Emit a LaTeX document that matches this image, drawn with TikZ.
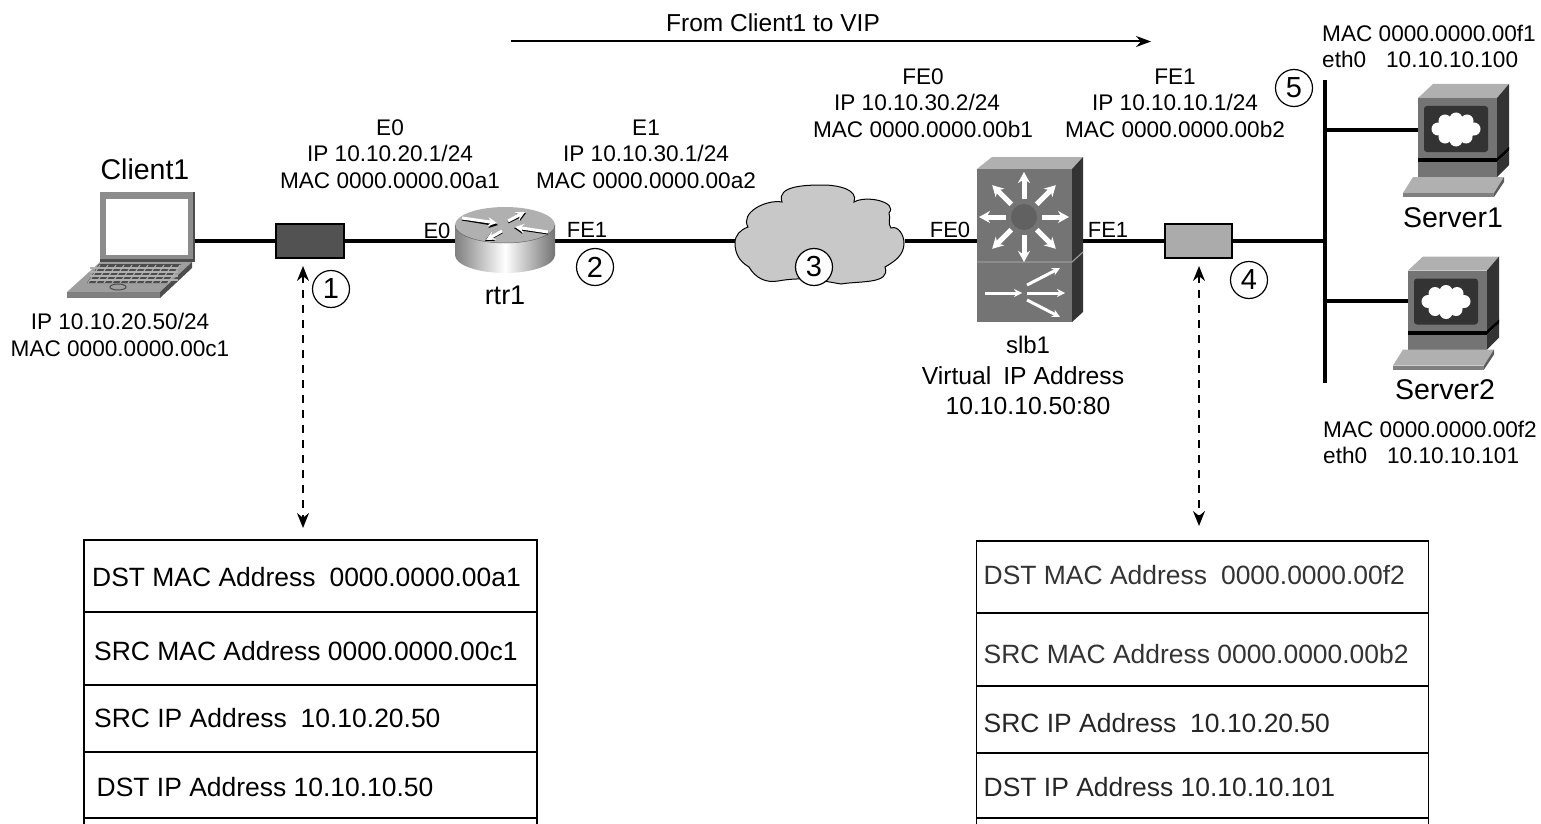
\documentclass[tikz,border=0pt]{standalone}
\usepackage{fontspec}
\usetikzlibrary{arrows.meta}
\setmainfont{Liberation Sans}
\definecolor{frontgray}{HTML}{747474}
\definecolor{topgray}{HTML}{B0B0B0}
\definecolor{sidegray}{HTML}{333333}
\definecolor{cloudgray}{HTML}{C8C8C8}

\tikzset{
  bigtip/.tip={Stealth[length=15pt, width=12pt]},
  iface/.style={font=\fontsize{22}{26}\selectfont, inner sep=0pt},
  addr/.style={font=\fontsize{22.6}{26.5}\selectfont, inner sep=0pt, align=center},
  devname/.style={font=\fontsize{28.5}{32}\selectfont, inner sep=0pt},
  numcircle/.style={draw, circle, fill=white, line width=1.2pt, minimum size=37pt, inner sep=0pt,
                    font=\fontsize{29}{32}\selectfont},
  frame/.style={inner sep=0pt},
  tap/.style={draw, line width=1.8pt, minimum width=67pt, minimum height=34pt, inner sep=0pt},
  link/.style={line width=3.2pt},
  tracearrow/.style={bigtip-bigtip, line width=1.6pt, dash pattern=on 8pt off 7pt},
  whitearrow/.style={-{Stealth[length=11pt, width=12pt]}, white, line width=5pt},
  thinarrow/.style={-{Stealth[length=8pt, width=8pt]}, white, line width=3pt},
  rtrarrow/.style={-{Stealth[length=9pt, width=9pt]}, line width=3pt},
  tablerow/.style={draw, line width=1.6pt, inner sep=0pt},
  rowtext/.style={anchor=west, inner sep=0pt, font=\fontsize{26.45}{30}\selectfont},
  pics/servericon/.style={code={
    \fill[topgray] (0,0) -- (15,-14) -- (91,-14) -- (79,0) -- cycle;
    \fill[frontgray] (0,0) rectangle (79,61);
    \fill[sidegray] (79,0) -- (91,-14) -- (91,51) -- (79,61) -- cycle;
    \fill[sidegray, rounded corners=3pt] (6,8) rectangle (70,54);
    \fill[white] (38,31) ellipse (21 and 11);
    \foreach \a/\b in {20/31, 27/23, 38/21, 49/23, 56/31, 48/39, 38/42, 27/39}
      \fill[white] (\a,\b) circle (6.5);
    \fill[black] (0,60) rectangle (79,64);
    \fill[frontgray] (0,64) rectangle (79,79);
    \fill[black] (79,60) -- (91,49) -- (91,53) -- (79,64) -- cycle;
    \fill[sidegray] (79,64) -- (91,53) -- (91,67) -- (79,79) -- cycle;
    \fill[topgray] (-5,79) -- (86,79) -- (76,95) -- (-15,95) -- cycle;
    \fill[gray] (-15,95) rectangle (76,99);
    \fill[sidegray!80] (86,79) -- (86,84) -- (76,99) -- (76,95) -- cycle;
  }},
}

\begin{document}
\begin{tikzpicture}[x=1pt, y=-1pt, >=stealth]
\useasboundingbox (0,0) rectangle (1541,824);

% ============================
% Nodes
% ============================
\node[frame, minimum width=96pt, minimum height=70pt] (client) at (147,226) {};
\node[frame, minimum width=100pt, minimum height=66pt] (rtr) at (505,241) {};
\node[frame, minimum width=169pt, minimum height=90pt] (wan) at (820,241) {};
\node[frame, minimum width=106pt, minimum height=165pt] (slb) at (1030,241) {};
\node[frame, minimum width=79pt, minimum height=60pt] (srv1) at (1457.5,130) {};
\node[frame, minimum width=79pt, minimum height=60pt] (srv2) at (1447.5,301) {};

\node[tap, fill=black!68, minimum width=68pt] (tapa) at (310,241) {};
\node[tap, fill=black!33] (tapb) at (1198.5,241) {};

% Ports on the bus
\coordinate (bustop) at (1325,80);
\coordinate (busend) at (1325,383);
\coordinate (busin) at (1325,241);
\coordinate (bus1) at (1325,130);
\coordinate (bus2) at (1325,301);

% ============================
% Links
% ============================
\draw[link] (client.east |- tapa) -- (tapa.west);
\draw[link] (tapa) -- (rtr);
\draw[link] (rtr) -- (wan);
\draw[link] (wan) -- (slb);
\draw[link] (slb) -- (tapb);
\draw[link] (tapb) -- (busin);
\draw[line width=4pt] (bustop) -- (busend);
\draw[link] (bus1) -- (srv1.west);
\draw[link] (bus2) -- (srv2.west);

% ============================
% Client1
% ============================
\fill[black!70] (100,192) rectangle (195,262);
\fill[black!45] (100,192) -- (193,192) -- (193,259) -- (100,259) -- cycle;
\fill[white] (106,199) rectangle (188,255);
\fill[topgray!90!black] (100,262) -- (192,262) -- (160,292) -- (67,292) -- cycle;
\fill[black!50] (67,292) rectangle (160,298);
\fill[black!70] (192,262) -- (192,268) -- (160,298) -- (160,292) -- cycle;
\fill[black!70] (99,264) -- (181,264) -- (167,283) -- (87,283) -- cycle;
\foreach \row in {268,272,276,280}
  \draw[topgray, line width=1.2pt] (90,\row) -- (178,\row);
\foreach \col in {100,108,...,180}
  \draw[topgray, line width=1pt] (\col,265) -- (\col-12,283);
\draw[black!70, line width=1pt] (118,287) ellipse (8 and 3);

% ============================
% rtr1
% ============================
\shade[left color=black!50, right color=black!55, middle color=white]
  (455,225) -- (455,255) arc[start angle=180, end angle=0, x radius=50, y radius=18] -- (555,225) -- cycle;
\fill[topgray] (505,225) ellipse (50 and 18);
\draw[black!60, line width=0.5pt] (455,225) arc[start angle=180, end angle=0, x radius=50, y radius=18];
\draw[rtrarrow, black] (462,219) -- (498,225);
\draw[rtrarrow, white] (462,218) -- (497,223);
\draw[rtrarrow, black] (548,233) -- (514,228);
\draw[rtrarrow, white] (548,232) -- (515,227);
\draw[rtrarrow, black] (508,222) -- (526,213);
\draw[rtrarrow, white] (508,221) -- (525,212);
\draw[rtrarrow, black] (502,232) -- (485,241);
\draw[rtrarrow, white] (502,231) -- (486,240);

% ============================
% Cloud
% ============================
\draw[fill=cloudgray, line width=1pt]
  (735,243) to[out=90, in=200] (748,227)
  to[out=120, in=170] (782,202)
  to[out=110, in=180] (823,185)
  to[out=0, in=70] (854,202)
  to[out=30, in=50] (889,213)
  to[out=-70, in=130] (891,228)
  to[out=20, in=90] (904,243)
  to[out=-90, in=30] (885,267)
  to[out=-70, in=10] (841,284)
  to[out=170, in=10] (778,281)
  to[out=190, in=-60] (749,267)
  to[out=150, in=-90] cycle;

% ============================
% slb1
% ============================
\fill[topgray] (977,169) -- (992,157) -- (1083,157) -- (1072,169) -- cycle;
\fill[frontgray] (977,169) rectangle (1072,322);
\fill[sidegray] (1072,169) -- (1083,157) -- (1083,312) -- (1072,322) -- cycle;
\draw[black!40, line width=1.2pt] (977,262) -- (1072,262) -- (1083,252);
\fill[black!62] (1024,217) circle (13);
\foreach \ang in {0,45,...,315}
  \draw[whitearrow] (1024,217) ++(\ang:18) -- ++(\ang:27);
\draw[thinarrow] (985,293) -- (1022,293);
\draw[thinarrow] (1027,285) -- (1060,268);
\draw[thinarrow] (1027,293) -- (1065,293);
\draw[thinarrow] (1027,300) -- (1060,317);

% ============================
% Servers
% ============================
\pic at (1418,98) {servericon};
\pic at (1408,270.5) {servericon};

% ============================
% Labels
% ============================
\node[addr] (flowtxt) at (773,23) {\fontsize{24.5}{28}\selectfont From Client1 to VIP};
\coordinate (flowa) at (511,41.5);
\coordinate (flowb) at (1151,41.5);
\draw[-{Stealth[length=15pt, width=11pt]}, line width=2pt] (flowa) -- (flowb);

\node[devname] (clientname) at (145,169) {Client1};
\node[addr] (clientaddr) at (120,335) {IP 10.10.20.50/24\\MAC 0000.0000.00c1};
\node[addr] (e0addr) at (390,154) {E0\\IP 10.10.20.1/24\\MAC 0000.0000.00a1};
\node[addr] (e1addr) at (646,154) {E1\\IP 10.10.30.1/24\\MAC 0000.0000.00a2};
\node[addr] (fe0addr) at (923,103) {FE0\\IP 10.10.30.2/24\hspace*{12pt}\mbox{}\\MAC 0000.0000.00b1};
\node[addr] (fe1addr) at (1175,103) {FE1\\IP 10.10.10.1/24\\MAC 0000.0000.00b2};
\node[addr, align=left, anchor=west] (srv1addr) at (1322,46.5) {MAC 0000.0000.00f1\\eth0\hspace{20pt}10.10.10.100};
\node[addr, align=left, anchor=west] (srv2addr) at (1323,442.5) {MAC 0000.0000.00f2\\eth0\hspace{20pt}10.10.10.101};

\node[iface] (ife0) at (437,231) {E0};
\node[iface] (ife1) at (587,230) {FE1};
\node[iface] (sfe0) at (950,230) {FE0};
\node[iface] (sfe1) at (1108,230) {FE1};

\node[devname, font=\fontsize{27}{32}\selectfont] (rtrname) at (505,295) {rtr1};
\node[addr, font=\fontsize{24}{30}\selectfont] (slbname) at (1028,345) {slb1};
\node[addr, font=\fontsize{24.7}{30}\selectfont] (vipname) at (1023,376) {Virtual\hspace{12pt}IP Address};
\node[addr, font=\fontsize{24.7}{30}\selectfont] (vipaddr) at (1028,406) {10.10.10.50:80};
\node[devname] (srv1name) at (1453,218) {Server1};
\node[devname] (srv2name) at (1445,390) {Server2};

\node[numcircle] (num1) at (331,289) {1};
\node[numcircle] (num2) at (595,267) {2};
\node[numcircle] (num3) at (814,267) {3};
\node[numcircle] (num4) at (1249,280) {4};
\node[numcircle] (num5) at (1294,88) {5};

% ============================
% Left capture table
% ============================
\coordinate (capa) at (303,266);
\coordinate (capb) at (303,528);
\draw[tracearrow] (capa) -- (capb);

\node[tablerow, minimum width=453pt, minimum height=72pt] (la) at (310.5,576) {};
\node[tablerow, minimum width=453pt, minimum height=73pt] (lb) at (310.5,648.5) {};
\node[tablerow, minimum width=453pt, minimum height=67pt] (lc) at (310.5,718.5) {};
\node[tablerow, minimum width=453pt, minimum height=66pt] (ld) at (310.5,785) {};
\node[tablerow, minimum width=453pt, minimum height=30pt] (le) at (310.5,833) {};
\node[rowtext] (latxt) at (92,577) {DST MAC Address\hspace{14pt}0000.0000.00a1};
\node[rowtext] (lbtxt) at (94,651) {SRC MAC Address 0000.0000.00c1};
\node[rowtext] (lctxt) at (94,718) {SRC IP Address\hspace{14pt}10.10.20.50};
\node[rowtext] (ldtxt) at (96.5,787) {DST IP Address 10.10.10.50};

% ============================
% Right capture table
% ============================
\coordinate (capc) at (1199,266);
\coordinate (capd) at (1199,526);
\draw[tracearrow] (capc) -- (capd);

\node[tablerow, minimum width=452pt, minimum height=72pt] (ra) at (1202.5,577) {};
\node[tablerow, minimum width=452pt, minimum height=73pt] (rb) at (1202.5,649.5) {};
\node[tablerow, minimum width=452pt, minimum height=67pt] (rc) at (1202.5,719.5) {};
\node[tablerow, minimum width=452pt, minimum height=65pt] (rd) at (1202.5,785.5) {};
\node[tablerow, minimum width=452pt, minimum height=30pt] (re) at (1202.5,833) {};
\node[rowtext, text=black!80] (ratxt) at (983.5,575) {DST MAC Address\hspace{14pt}0000.0000.00f2};
\node[rowtext, text=black!80] (rbtxt) at (983.5,654) {SRC MAC Address 0000.0000.00b2};
\node[rowtext, text=black!85] (rctxt) at (983.5,723) {SRC IP Address\hspace{14pt}10.10.20.50};
\node[rowtext, text=black!85] (rdtxt) at (983.5,787) {DST IP Address 10.10.10.101};

\end{tikzpicture}
\end{document}
